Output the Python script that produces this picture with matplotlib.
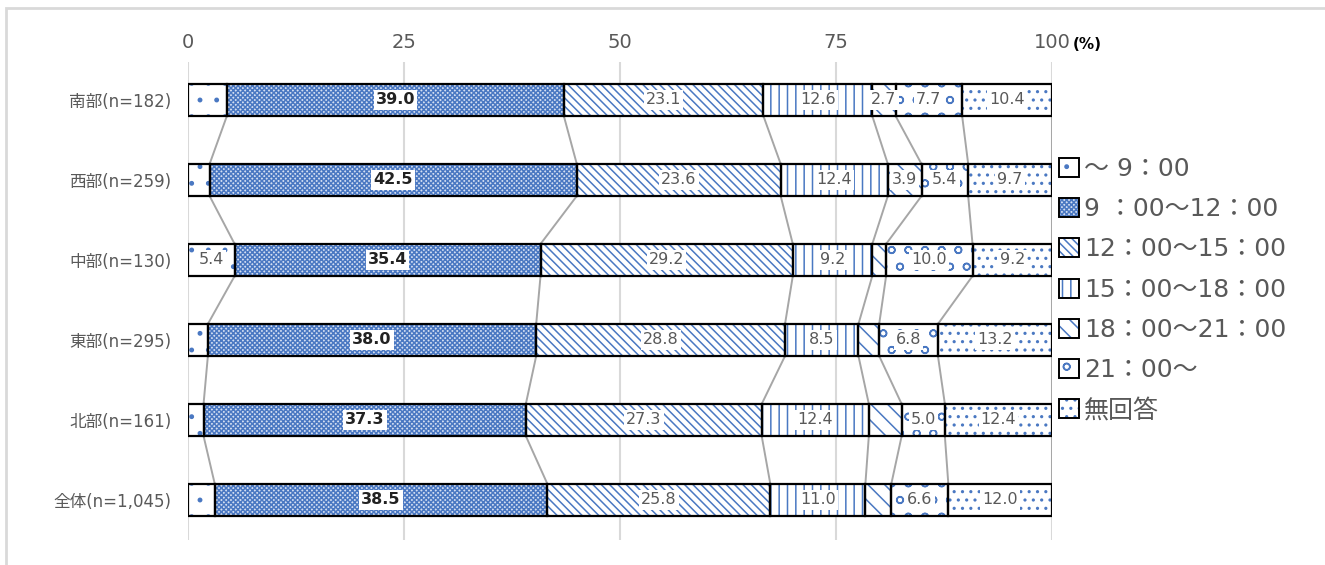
import numpy as np
import matplotlib
matplotlib.use("Agg")
import matplotlib.pyplot as plt
from matplotlib.colors import to_rgba
from matplotlib.patches import Patch, Rectangle

plt.rcParams['font.family'] = ['DejaVu Sans', 'Noto Sans CJK JP']
plt.rcParams['hatch.linewidth'] = 1.1

# --- data ---
groups = ['南部(n=182)', '西部(n=259)', '中部(n=130)', '東部(n=295)', '北部(n=161)', '全体(n=1,045)']
categories = ['～ 9：00', '9 ：00～12：00', '12：00～15：00', '15：00～18：00',
              '18：00～21：00', '21：00～', '無回答']
t_0_9 = [4.5, 2.5, 5.4, 2.3, 1.8, 3.1]
t_9_12 = [39.0, 42.5, 35.4, 38.0, 37.3, 38.5]
t_12_15 = [23.1, 23.6, 29.2, 28.8, 27.3, 25.8]
t_15_18 = [12.6, 12.4, 9.2, 8.5, 12.4, 11.0]
t_18_21 = [2.7, 3.9, 1.6, 2.4, 3.8, 3.0]
t_21 = [7.7, 5.4, 10.0, 6.8, 5.0, 6.6]
no_answer = [10.4, 9.7, 9.2, 13.2, 12.4, 12.0]
# which labels are printed in the original
show_label = [
    [False, False, True, False, False, False],
    [True] * 6,
    [True] * 6,
    [True] * 6,
    [True, True, False, False, False, False],
    [True] * 6,
    [True] * 6,
]
ticks = [0, 25, 50, 75, 100]

series = [t_0_9, t_9_12, t_12_15, t_15_18, t_18_21, t_21, no_answer]
hatches = ['.', 'xxxxxxx', '\\\\\\\\', '||', '\\\\', 'o', '..']
faces = ['white', '#D3DEF2', 'white', 'white', 'white', 'white', 'white']
blue = '#4A78C2'

fig = plt.figure(figsize=(13.25, 5.65), dpi=100)
ax = fig.add_axes([188 / 1325, 1 - 540 / 565, (1052 - 188) / 1325, (540 - 62) / 565])

y = np.arange(len(groups))
bar_h = 0.4
left = np.zeros(len(groups))
bounds = []
for i, vals in enumerate(series):
    vals = np.array(vals)
    ax.barh(y, vals, left=left, height=bar_h, color=faces[i], hatch=hatches[i],
            edgecolor=blue, linewidth=0, zorder=3)
    ax.barh(y, vals, left=left, height=bar_h, fill=False, edgecolor='black',
            linewidth=1.6, zorder=4)
    for j, v in enumerate(vals):
        if not show_label[i][j]:
            continue
        bold = i == 1
        ax.text(left[j] + v / 2, y[j], f'{v:.1f}', ha='center', va='center',
                fontsize=11.5, color='#222222' if bold else '#595959',
                fontweight='bold' if bold else 'normal', zorder=5,
                bbox=dict(facecolor='white', edgecolor='none', pad=1.5))
    left = left + vals
    bounds.append(left.copy())

# connector lines between bars
for b in bounds:
    for j in range(len(groups) - 1):
        ax.plot([b[j], b[j + 1]], [y[j] + bar_h / 2, y[j + 1] - bar_h / 2],
                color='#A6A6A6', linewidth=1.4, zorder=2)

ax.set_xlim(0, 100)
ax.set_ylim(5.5, -0.475)
ax.set_xticks(ticks)
ax.xaxis.tick_top()
ax.tick_params(axis='x', length=0, pad=7, labelsize=14, labelcolor='#595959')
ax.set_yticks(y)
ax.set_yticklabels(groups)
ax.tick_params(axis='y', length=0, pad=12, labelsize=12, labelcolor='#595959')
ax.grid(axis='x', color='#D9D9D9', linewidth=1.5, zorder=0)
ax.set_axisbelow(True)
for s in ax.spines.values():
    s.set_visible(False)

ax.annotate('(%)', xy=(100, 1), xycoords=('data', 'axes fraction'),
            xytext=(15, 7), textcoords='offset points', ha='left', va='bottom',
            fontsize=11, fontweight='bold', color='black')

handles = [Patch(facecolor=faces[i], hatch=hatches[i], edgecolor=blue, linewidth=0)
           for i in range(len(categories))]
leg = ax.legend(handles, categories, loc='upper left',
                bbox_to_anchor=(1059 / 1325, 1 - 157 / 565), bbox_transform=fig.transFigure,
                frameon=False, fontsize=18, labelcolor='#595959', handlelength=0.8,
                handleheight=0.8, handletextpad=0.2, labelspacing=0.65,
                borderaxespad=0, borderpad=0)
for h in leg.legend_handles:
    h.set_edgecolor('black')
    h.set_linewidth(1.4)
    h._hatch_color = to_rgba(blue)  # keep blue pattern with a black border

# light outer frame (only top and left are visible in the original)
fig.patches.append(Rectangle((6 / 1325, -0.1), 1.2, 1 - 8 / 565 + 0.1,
                             transform=fig.transFigure, fill=False,
                             edgecolor='#D9D9D9', linewidth=2))

fig.savefig('out.png', dpi=100, facecolor='white')
